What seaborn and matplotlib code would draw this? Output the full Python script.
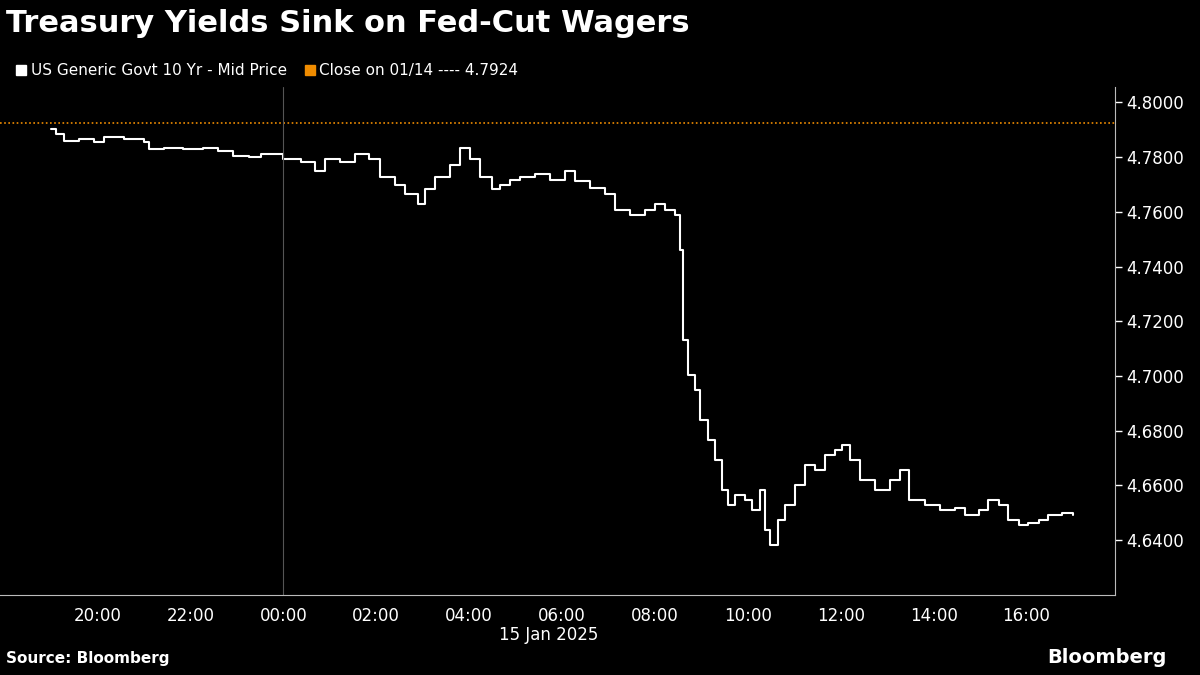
import numpy as np
import pandas as pd
import matplotlib.pyplot as plt
import matplotlib.dates as mdates
from matplotlib.lines import Line2D
import seaborn as sns

# hours relative to 00:00 on 15 Jan 2025 (negative = 14 Jan)
hours = [-5.0, -4.9, -4.72, -4.4, -4.08, -3.87, -3.44, -3.01, -2.9, -2.58, -2.15, -1.72,
         -1.4, -1.08, -0.75, -0.49, 0.0, 0.37, 0.69, 0.9, 1.23, 1.55, 1.85, 2.09, 2.41,
         2.62, 2.9, 3.05, 3.27, 3.59, 3.81, 4.02, 4.24, 4.5, 4.67, 4.88, 5.1, 5.42, 5.74,
         6.06, 6.28, 6.6, 6.92, 7.14, 7.46, 7.78, 8.0, 8.22, 8.43, 8.54, 8.6, 8.71, 8.86,
         8.97, 9.14, 9.29, 9.44, 9.57, 9.72, 9.94, 10.09, 10.26, 10.37, 10.47, 10.65,
         10.8, 11.01, 11.23, 11.44, 11.66, 11.87, 12.02, 12.19, 12.41, 12.73, 13.05,
         13.27, 13.48, 13.81, 14.13, 14.45, 14.67, 14.97, 15.18, 15.4, 15.61, 15.83,
         16.04, 16.26, 16.47, 16.77, 16.99]
yields = [4.7902, 4.7884, 4.7858, 4.7865, 4.7854, 4.7872, 4.7865, 4.7854, 4.7828,
          4.7835, 4.7828, 4.7835, 4.7821, 4.7803, 4.7799, 4.781, 4.7792, 4.7784, 4.7748,
          4.7792, 4.7784, 4.781, 4.7792, 4.7726, 4.7700, 4.7664, 4.7627, 4.7682, 4.7726,
          4.7773, 4.7835, 4.7792, 4.7726, 4.7682, 4.7700, 4.7718, 4.7726, 4.7737, 4.7718,
          4.7748, 4.7711, 4.7689, 4.7664, 4.7608, 4.759, 4.7608, 4.7627, 4.7608, 4.759,
          4.7462, 4.7133, 4.7004, 4.6949, 4.6839, 4.6766, 4.6693, 4.6583, 4.6528, 4.6565,
          4.6546, 4.6510, 4.6583, 4.6436, 4.6382, 4.6473, 4.6528, 4.6601, 4.6675, 4.6656,
          4.6711, 4.6729, 4.6748, 4.6693, 4.6620, 4.6583, 4.6620, 4.6656, 4.6546, 4.6528,
          4.6510, 4.6518, 4.6491, 4.6510, 4.6546, 4.6528, 4.6473, 4.6455, 4.6462, 4.6473,
          4.6491, 4.6499, 4.6491]
close_prev = 4.7924

base = pd.Timestamp("2025-01-15 00:00")
df = pd.DataFrame({"time": [base + pd.Timedelta(hours=h) for h in hours], "yield": yields})

sns.set_style("dark")
plt.rcParams["font.family"] = ["DejaVu Sans"]
fig = plt.figure(figsize=(12, 6.75), dpi=100, facecolor="black")
ax = fig.add_axes([0.0, 0.1185, 0.929, 0.752], facecolor="black")

ax.step(df["time"], df["yield"], where="post", color="white", lw=1.5)
ax.axhline(close_prev, color="#f08c00", lw=1.2, ls=(0, (1, 1.5)))
ax.axvline(base, color="#555555", lw=0.8)

ax.set_xlim(base - pd.Timedelta(hours=6.1), base + pd.Timedelta(hours=17.9))
ax.set_ylim(4.6199, 4.8055)
ax.yaxis.tick_right()
ax.set_yticks([4.64, 4.66, 4.68, 4.70, 4.72, 4.74, 4.76, 4.78, 4.80])
ax.yaxis.set_major_formatter(plt.FuncFormatter(lambda v, p: f"{v:.4f}"))
ax.xaxis.set_major_locator(mdates.HourLocator(byhour=[20, 22, 0, 2, 4, 6, 8, 10, 12, 14, 16]))
ax.xaxis.set_major_formatter(mdates.DateFormatter("%H:%M"))
ax.tick_params(colors="white", labelsize=12, length=5, width=1, direction="out")
ax.tick_params(axis="x", colors="#bbbbbb", labelcolor="white")
ax.grid(False)
for s in ["top", "left"]:
    ax.spines[s].set_visible(False)
ax.spines["right"].set_color("#bbbbbb")
ax.spines["bottom"].set_color("#bbbbbb")
ax.set_xlabel("")
ax.set_ylabel("")

fig.text(0.005, 0.965, "Treasury Yields Sink on Fed-Cut Wagers", color="white",
         fontsize=22, fontweight="bold", va="center")
handles = [Line2D([], [], marker="s", ls="", color="white", markersize=7),
           Line2D([], [], marker="s", ls="", color="#f08c00", markersize=7)]
fig.legend(handles, ["US Generic Govt 10 Yr - Mid Price", "Close on 01/14 ---- 4.7924"],
           loc="center left", bbox_to_anchor=(0.0, 0.895), ncol=2, frameon=False,
           labelcolor="white", fontsize=11, handletextpad=0.1, columnspacing=1.0,
           handlelength=1.0)
fig.text(0.4575, 0.06, "15 Jan 2025", color="white", fontsize=12, ha="center", va="center")
fig.text(0.005, 0.018, "Source: Bloomberg", color="white", fontsize=11, fontweight="bold")
fig.text(0.972, 0.018, "Bloomberg", color="white", fontsize=14, fontweight="bold", ha="right")

fig.savefig("out.png", facecolor="black")
